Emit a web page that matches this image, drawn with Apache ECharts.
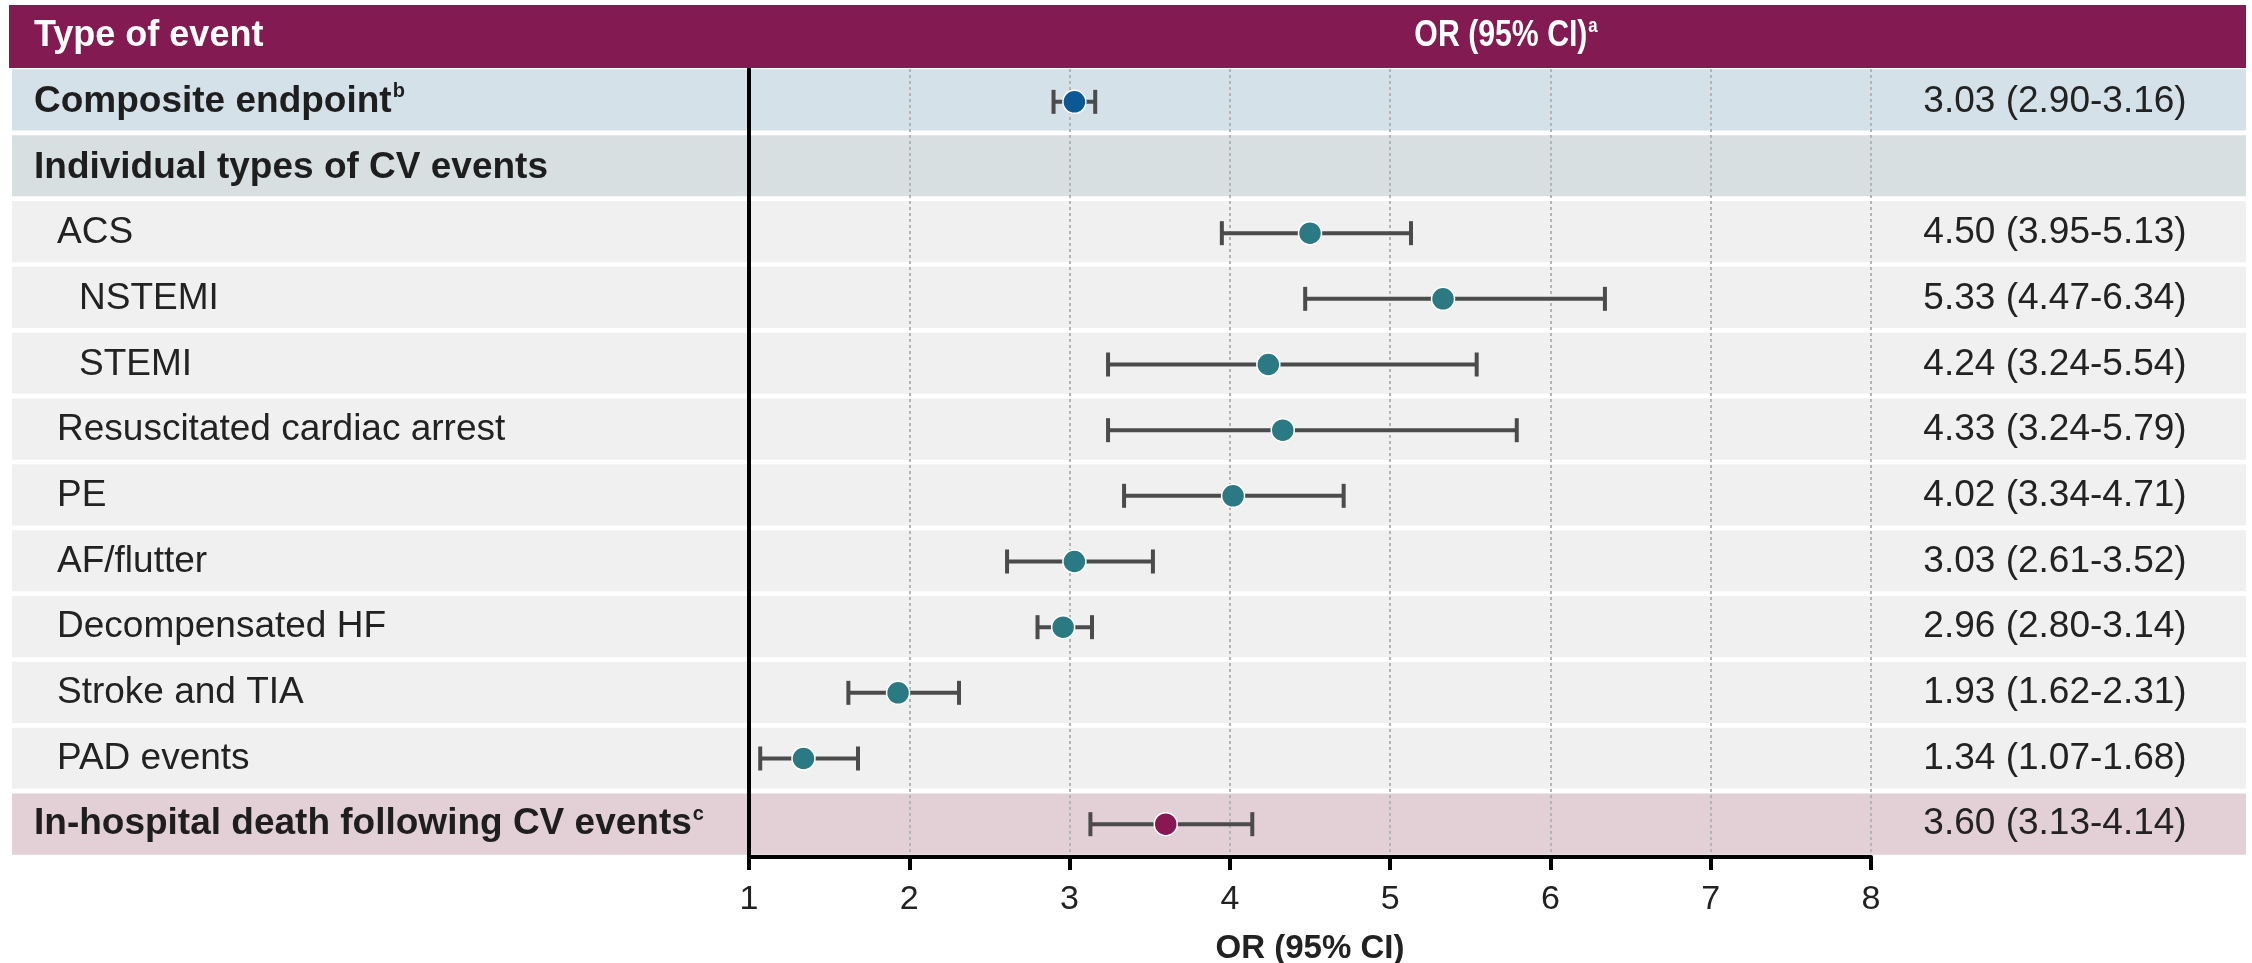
<!DOCTYPE html>
<html><head><meta charset="utf-8">
<script src="https://cdn.jsdelivr.net/npm/echarts@6/dist/echarts.min.js"></script>
<style>html,body{margin:0;padding:0;background:#fff}#chart{width:2252px;height:963px}</style>
</head><body><div id="chart"></div>
<script>
// ---- data ----
const categories = ['Composite endpoint', 'Individual types of CV events', 'ACS', 'NSTEMI', 'STEMI',
  'Resuscitated cardiac arrest', 'PE', 'AF/flutter', 'Decompensated HF', 'Stroke and TIA', 'PAD events',
  'In-hospital death following CV events'];
const footnotes = ['b', '', '', '', '', '', '', '', '', '', '', 'c'];
const indentLevel = [0, 0, 1, 2, 2, 1, 1, 1, 1, 1, 1, 0];
const rowType = ['composite', 'section', 'item', 'item', 'item', 'item', 'item', 'item', 'item', 'item', 'item', 'death'];
const orValues = [3.03, null, 4.50, 5.33, 4.24, 4.33, 4.02, 3.03, 2.96, 1.93, 1.34, 3.60];
const ciLow    = [2.90, null, 3.95, 4.47, 3.24, 3.24, 3.34, 2.61, 2.80, 1.62, 1.07, 3.13];
const ciHigh   = [3.16, null, 5.13, 6.34, 5.54, 5.79, 4.71, 3.52, 3.14, 2.31, 1.68, 4.14];
const xMin = 1, xMax = 8, xInterval = 1;
const headerLeft = 'Type of event';
const headerRight = 'OR (95% CI)';
const headerRightSup = 'a';
const axisTitle = 'OR (95% CI)';

// ---- derived ----
const ciLabels = orValues.map((v, i) => v == null ? '' :
  `${v.toFixed(2)} (${ciLow[i].toFixed(2)}-${ciHigh[i].toFixed(2)})`);

const FONT = "'Liberation Sans', Arial, Helvetica, sans-serif";
const FS = 37;
const bandColor = {composite: '#d5e1e9', section: '#d7dfe1', item: '#f0f0f0', death: '#e2d0d6'};
const markerColor = {composite: '#0b5894', item: '#2b7a83', death: '#891852'};

const chart = echarts.init(document.getElementById('chart'), null, {renderer: 'canvas'});

const errData = [];
const ptData = [];
orValues.forEach((v, i) => {
  if (v == null) return;
  errData.push([i, ciLow[i], ciHigh[i]]);
  ptData.push({value: [v, i], itemStyle: {color: markerColor[rowType[i]]}});
});

const option = {
  animation: false,
  textStyle: {fontFamily: FONT},
  grid: [
    {left: 749, right: 381, top: 69, height: 788, outerBoundsMode: 'none', containLabel: false},
    {left: 12, right: 6, top: 67, height: 790, outerBoundsMode: 'none', containLabel: false}
  ],
  xAxis: [
    {
      type: 'value', gridIndex: 0, min: xMin, max: xMax, interval: xInterval,
      axisLine: {show: true, onZero: false, lineStyle: {color: '#000', width: 4}},
      axisTick: {show: true, length: 13, lineStyle: {color: '#000', width: 4}},
      axisLabel: {fontSize: 34, color: '#222', margin: 26, fontFamily: FONT},
      splitLine: {show: true, lineStyle: {color: '#b4b4b4', width: 2, type: [3, 3]}},
      name: axisTitle, nameLocation: 'middle', nameGap: 75,
      nameTextStyle: {fontSize: 33, fontWeight: 'bold', color: '#222', fontFamily: FONT}
    },
    {type: 'value', gridIndex: 1, min: 0, max: 1, show: false}
  ],
  yAxis: [
    {
      type: 'category', gridIndex: 0, data: categories, inverse: true,
      axisLine: {show: true, lineStyle: {color: '#000', width: 4}},
      axisTick: {show: false}, splitLine: {show: false},
      axisLabel: {
        align: 'left', margin: 715,
        formatter: (val, i) => {
          const lvl = indentLevel[i];
          if (rowType[i] !== 'item') {
            return `{b|${val}}` + (footnotes[i] ? `{sup|${footnotes[i]}}` : '');
          }
          return `{r${lvl}|${val}}`;
        },
        rich: {
          b: {fontSize: FS, fontWeight: 'bold', color: '#1e1e1e', fontFamily: FONT, lineHeight: 44},
          sup: {fontSize: 20, fontWeight: 'bold', color: '#1e1e1e', fontFamily: FONT, verticalAlign: 'top', lineHeight: 24, padding: [2, 0, 0, 1]},
          r1: {fontSize: FS, color: '#222', fontFamily: FONT, padding: [0, 0, 0, 23]},
          r2: {fontSize: FS, color: '#222', fontFamily: FONT, padding: [0, 0, 0, 45]}
        }
      }
    },
    {
      type: 'category', gridIndex: 0, position: 'right', data: ciLabels, inverse: true,
      axisLine: {show: false}, axisTick: {show: false},
      axisLabel: {align: 'center', margin: 184, fontSize: FS, color: '#222', fontFamily: FONT}
    },
    {type: 'category', gridIndex: 1, data: categories, inverse: true, show: false}
  ],
  series: [
    {
      type: 'bar', xAxisIndex: 1, yAxisIndex: 2, z: -1, silent: true,
      barCategoryGap: '7%',
      data: categories.map((c, i) => ({value: 1, itemStyle: {color: bandColor[rowType[i]]}}))
    },
    {
      type: 'custom', xAxisIndex: 0, yAxisIndex: 0, z: 3,
      encode: {y: 0, x: [1, 2]},
      data: errData,
      renderItem: (params, api) => {
        const yi = api.value(0);
        const p1 = api.coord([api.value(1), yi]);
        const p2 = api.coord([api.value(2), yi]);
        const h = 12;
        const style = {stroke: '#4b4b4b', lineWidth: 4};
        return {type: 'group', children: [
          {type: 'line', shape: {x1: p1[0], y1: p1[1], x2: p2[0], y2: p2[1]}, style},
          {type: 'line', shape: {x1: p1[0], y1: p1[1] - h, x2: p1[0], y2: p1[1] + h}, style},
          {type: 'line', shape: {x1: p2[0], y1: p2[1] - h, x2: p2[0], y2: p2[1] + h}, style}
        ]};
      }
    },
    {
      type: 'scatter', xAxisIndex: 0, yAxisIndex: 0, z: 4,
      symbol: 'circle', symbolSize: 23,
      itemStyle: {borderColor: '#ffffff', borderWidth: 1.5, opacity: 1},
      data: ptData
    }
  ],
  graphic: [
    {type: 'rect', left: 9, top: 5, z: 10, shape: {width: 2237, height: 63}, style: {fill: '#831a51'}},
    {type: 'text', left: 34, top: 18, z: 11,
      style: {text: headerLeft, fill: '#fff', font: `bold 36px ${FONT}`}},
    {type: 'text', x: 1506, y: 36, z: 11, scaleX: 0.84, scaleY: 1,
      style: {
        text: `{t|${headerRight}}{s|${headerRightSup}}`, align: 'center', verticalAlign: 'middle',
        rich: {
          t: {fill: '#fff', fontSize: 36, fontWeight: 'bold', fontFamily: FONT, lineHeight: 44},
          s: {fill: '#fff', fontSize: 20, fontWeight: 'bold', fontFamily: FONT, verticalAlign: 'top', lineHeight: 24, padding: [2, 0, 0, 1]}
        }
      }}
  ]
};
chart.setOption(option);
</script>
</body></html>
